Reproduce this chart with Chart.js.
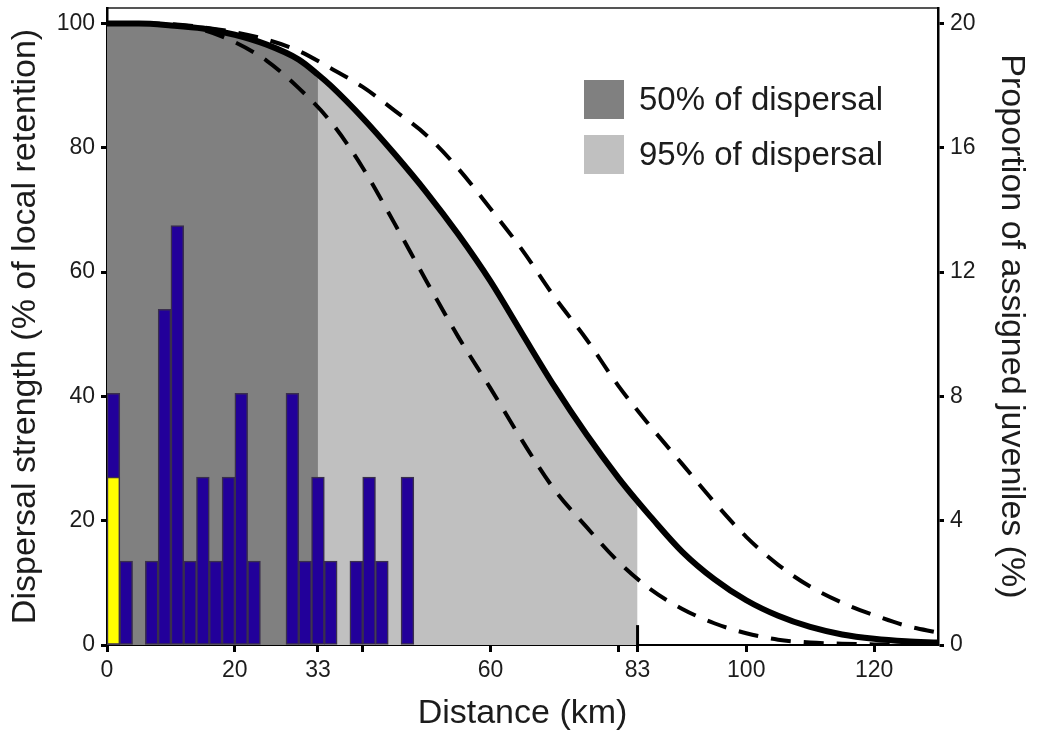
<!DOCTYPE html>
<html>
<head>
<meta charset="utf-8">
<script src="https://cdn.jsdelivr.net/npm/chart.js@4.4.0/dist/chart.umd.min.js"></script>
<style>
html,body{margin:0;padding:0;background:#ffffff;}
#wrap{width:1037px;height:737px;position:relative;}
</style>
</head>
<body>
<div id="wrap"><canvas id="c" width="1037" height="737"></canvas></div>
<script>
// ---- data ----
// Best-fit dispersal kernel (solid line), % of local retention
const kernelKm = [0,5,10,15,20,25,30,33,35,40,45,50,55,60,65,70,75,80,83,85,90,95,100,105,110,115,120,125,130];
const kernelBest = [100,100,99.7,99.2,98.2,96.6,94.2,91.8,90.0,84.8,79.0,72.8,66.0,58.5,50.0,41.6,33.9,26.9,23.1,20.7,15.0,10.6,7.2,4.7,2.9,1.7,1.0,0.6,0.4];
// Confidence limits (dashed lines)
const ciKm = [0,5,10,15,20,25,30,35,40,45,50,55,60,65,70,75,80,85,90,95,100,105,110,115,120,125,130];
const ciUpper = [100,100,99.9,99.4,98.6,97.4,95.6,92.8,89.8,86.0,82.0,76.6,70.2,63.5,56.0,49.2,41.7,35.2,29.1,23.0,17.4,12.9,9.4,6.8,4.8,3.1,2.0];
const ciLower = [100,100,99.8,99.0,97.0,94.0,89.6,84.2,76.8,67.8,58.5,49.5,41.3,32.8,25.0,19.0,13.4,9.0,5.8,3.5,1.9,0.85,0.4,0.2,0.1,0.05,0];
// Dispersal zones (km)
const zone50 = [0, 33];
const zone95 = [33, 83];
const zoneMarkKm = [83];
// Histogram of assigned juveniles (% per 2-km bin)
const binStartKm = [0,2,4,6,8,10,12,14,16,18,20,22,24,26,28,30,32,34,36,38,40,42,44,46];
const assignedPct = [8.1,2.7,0,2.7,10.8,13.5,2.7,5.4,2.7,5.4,8.1,2.7,0,0,8.1,2.7,5.4,2.7,0,2.7,5.4,2.7,0,5.4];
const selfRecruitPct = [5.4,0,0,0,0,0,0,0,0,0,0,0,0,0,0,0,0,0,0,0,0,0,0,0];
const binWidthKm = 2;
// Axis ticks
const xTickValues = [0,20,33,40,60,80,83,100,120];
const xTickLabelled = [0,20,33,60,83,100,120];
const leftTicks = [0,20,40,60,80,100];
const rightTicks = [0,4,8,12,16,20];
const legendLabels = ['50% of dispersal','95% of dispersal'];

// ---- build chart ----
const FONT = "'Liberation Sans', Arial, sans-serif";
const TXT = '#1c1c1c';
const DARK = '#808080';
const LIGHT = '#c0c0c0';

const xy = (xs, ys) => xs.map((x, i) => ({x: x, y: ys[i]}));
const solidPts = xy(kernelKm, kernelBest);
const fill50 = solidPts.filter(p => p.x >= zone50[0] && p.x <= zone50[1]);
const fill95 = solidPts.filter(p => p.x >= zone95[0] && p.x <= zone95[1]);
const bars = (vals) => binStartKm.map((s, i) => ({x: s + binWidthKm / 2, y: vals[i] > 0 ? vals[i] : null}));
const markPts = zoneMarkKm.flatMap(k => [{x: k, y: 0}, {x: k, y: 3.2}]);

const lineBase = {type: 'line', yAxisID: 'y', xAxisID: 'x', pointRadius: 0, fill: false,
  borderColor: '#000', cubicInterpolationMode: 'monotone'};
const barBase = {type: 'bar', yAxisID: 'y2', xAxisID: 'x', grouped: false,
  barPercentage: 1, categoryPercentage: 1, borderWidth: 1.5, borderColor: '#3a2f4c', borderSkipped: false};

const insetLegend = {
  id: 'insetLegend',
  afterDatasetsDraw(chart) {
    const {ctx, chartArea: a} = chart;
    const colors = [DARK, LIGHT];
    ctx.save();
    ctx.font = '33px ' + FONT;
    ctx.textBaseline = 'middle';
    ctx.textAlign = 'left';
    legendLabels.forEach((lab, i) => {
      const bx = a.left + 477, by = a.top + 72 + i * 55;
      ctx.fillStyle = colors[i];
      ctx.fillRect(bx, by, 40, 39);
      ctx.fillStyle = TXT;
      ctx.fillText(lab, bx + 55, by + 21);
    });
    ctx.restore();
  }
};

const tickFont = {family: FONT, size: 23};
const titleFont = {family: FONT, size: 34};

new Chart(document.getElementById('c'), {
  type: 'line',
  data: {
    datasets: [
      Object.assign({}, lineBase, {label: 'best', data: solidPts, borderWidth: 6, order: 0}),
      Object.assign({}, lineBase, {label: 'upper', data: xy(ciKm, ciUpper), borderWidth: 4, borderDash: [20, 13], order: 1}),
      Object.assign({}, lineBase, {label: 'lower', data: xy(ciKm, ciLower), borderWidth: 4, borderDash: [20, 13], order: 1}),
      Object.assign({}, lineBase, {label: 'mark', data: markPts, borderWidth: 3, cubicInterpolationMode: 'default', order: 2}),
      Object.assign({}, barBase, {label: 'self', data: bars(selfRecruitPct), backgroundColor: '#ffff00', order: 3}),
      Object.assign({}, barBase, {label: 'assigned', data: bars(assignedPct), backgroundColor: '#22009a', order: 4}),
      Object.assign({}, lineBase, {label: '95%', data: fill95, borderWidth: 0, fill: 'origin', backgroundColor: LIGHT, order: 5}),
      Object.assign({}, lineBase, {label: '50%', data: fill50, borderWidth: 0, fill: 'origin', backgroundColor: DARK, order: 6})
    ]
  },
  options: {
    responsive: false,
    animation: false,
    devicePixelRatio: 1,
    layout: {padding: {top: 8, left: 0, right: 0, bottom: 0}},
    plugins: {legend: {display: false}, tooltip: {enabled: false}},
    scales: {
      x: {
        type: 'linear', position: 'bottom', min: 0, max: 130, offset: false,
        afterBuildTicks: s => { s.ticks = xTickValues.map(v => ({value: v})); },
        ticks: {autoSkip: false, maxRotation: 0, minRotation: 0, padding: 5, font: tickFont, color: TXT,
          callback: v => xTickLabelled.includes(v) ? String(v) : ''},
        grid: {display: true, offset: false, drawOnChartArea: false, drawTicks: true, tickLength: 7, tickWidth: 3, tickColor: '#000'},
        border: {display: true, color: '#000', width: 2},
        title: {display: true, text: 'Distance (km)', font: titleFont, color: TXT, padding: {top: 0, bottom: 3}},
        afterFit: s => { s.height = 92; s.paddingLeft = 0; s.paddingRight = 0; }
      },
      xTop: {
        type: 'linear', position: 'top', min: 0, max: 130, display: true,
        ticks: {display: false},
        grid: {display: true, offset: false, drawOnChartArea: false, drawTicks: false},
        border: {display: true, color: '#555', width: 2},
        afterFit: s => { s.height = 0; s.paddingLeft = 0; s.paddingRight = 0; }
      },
      y: {
        type: 'linear', position: 'left', min: 0, max: 102.5,
        afterBuildTicks: s => { s.ticks = leftTicks.map(v => ({value: v})); },
        ticks: {padding: 6, font: tickFont, color: TXT, autoSkip: false},
        grid: {display: true, offset: false, drawOnChartArea: false, drawTicks: true, tickLength: 6, tickWidth: 3, tickColor: '#000'},
        border: {display: true, color: '#000', width: 2.5},
        title: {display: true, text: 'Dispersal strength (% of local retention)', font: titleFont, color: TXT, padding: {top: 5, bottom: 0}},
        afterFit: s => { s.width = 107; s.paddingTop = 0; s.paddingBottom = 0; }
      },
      y2: {
        type: 'linear', position: 'right', min: 0, max: 20.5,
        afterBuildTicks: s => { s.ticks = rightTicks.map(v => ({value: v})); },
        ticks: {padding: 6, font: tickFont, color: TXT, autoSkip: false},
        grid: {display: true, offset: false, drawOnChartArea: false, drawTicks: true, tickLength: 6, tickWidth: 3, tickColor: '#000'},
        border: {display: true, color: '#000', width: 2.5},
        title: {display: true, text: 'Proportion of assigned juveniles (%)', font: titleFont, color: TXT, padding: {top: 5, bottom: 0}},
        afterFit: s => { s.width = 99; s.paddingTop = 0; s.paddingBottom = 0; }
      }
    }
  },
  plugins: [insetLegend]
});
</script>
</body>
</html>
